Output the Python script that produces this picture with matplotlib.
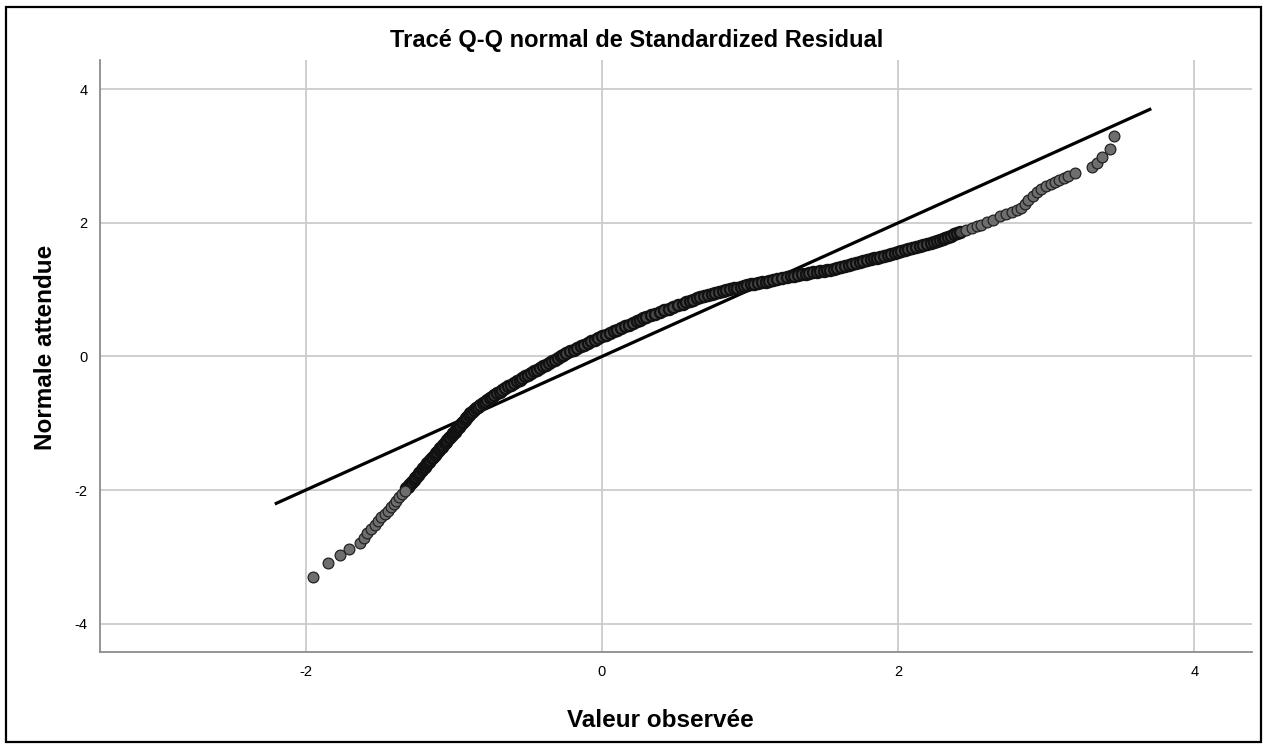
import matplotlib
matplotlib.use("Agg")
import matplotlib.pyplot as plt
from matplotlib.patches import Rectangle

plt.rcParams['font.family'] = ['Liberation Sans', 'DejaVu Sans']
plt.rcParams['axes.unicode_minus'] = False

# Observed standardized residuals (x) vs expected normal quantiles (y),
# read off the reference picture, in four stretches of the curve.

# lower tail, individual points
low_x = [-1.952, -1.851, -1.772, -1.709, -1.637, -1.610, -1.585, -1.560, -1.535,
         -1.512, -1.490, -1.468, -1.447, -1.428, -1.408, -1.388, -1.368, -1.350,
         -1.330]
low_y = [-3.30, -3.09, -2.98, -2.89, -2.80, -2.72, -2.65, -2.58, -2.52,
         -2.46, -2.41, -2.36, -2.31, -2.26, -2.21, -2.16, -2.11, -2.06,
         -2.01]

# steep dense band
steep_x = [-1.321, -1.311, -1.302, -1.292, -1.283, -1.273, -1.264, -1.254, -1.245,
           -1.235, -1.226, -1.217, -1.207, -1.198, -1.188, -1.179, -1.170, -1.160,
           -1.150, -1.141, -1.131, -1.121, -1.112, -1.102, -1.092, -1.083, -1.073,
           -1.063, -1.054, -1.044, -1.034, -1.025, -1.015, -1.005, -0.996, -0.986,
           -0.976, -0.967, -0.957, -0.948, -0.938, -0.928, -0.919, -0.909, -0.899,
           -0.890, -0.877, -0.864, -0.850, -0.836, -0.821, -0.806, -0.790, -0.774,
           -0.758, -0.742, -0.726, -0.710, -0.691, -0.672, -0.653, -0.634, -0.614,
           -0.595, -0.576, -0.557, -0.538, -0.519, -0.499, -0.480, -0.460, -0.440,
           -0.420, -0.400, -0.380, -0.360, -0.340, -0.320, -0.300, -0.280, -0.260,
           -0.240, -0.216, -0.192, -0.168, -0.144, -0.120, -0.096, -0.072, -0.048,
           -0.024, 0.000, 0.026, 0.052, 0.078, 0.104, 0.130, 0.156, 0.182,
           0.208, 0.234, 0.260, 0.280, 0.300, 0.330, 0.361, 0.391, 0.422,
           0.452, 0.483, 0.513, 0.544, 0.568, 0.593, 0.616, 0.640]
steep_y = [-1.975, -1.95, -1.925, -1.90, -1.875, -1.85, -1.825, -1.80, -1.775,
           -1.75, -1.725, -1.70, -1.675, -1.65, -1.625, -1.60, -1.575, -1.55,
           -1.525, -1.50, -1.475, -1.45, -1.425, -1.40, -1.375, -1.35, -1.325,
           -1.30, -1.275, -1.25, -1.225, -1.20, -1.175, -1.15, -1.125, -1.10,
           -1.075, -1.05, -1.025, -1.00, -0.975, -0.95, -0.925, -0.90, -0.875,
           -0.85, -0.825, -0.80, -0.775, -0.75, -0.725, -0.70, -0.675, -0.65,
           -0.625, -0.60, -0.575, -0.55, -0.525, -0.50, -0.475, -0.45, -0.425,
           -0.40, -0.375, -0.35, -0.325, -0.30, -0.275, -0.25, -0.225, -0.20,
           -0.175, -0.15, -0.125, -0.10, -0.075, -0.05, -0.025, 0.00, 0.025,
           0.05, 0.075, 0.10, 0.125, 0.15, 0.175, 0.20, 0.225, 0.25,
           0.275, 0.30, 0.325, 0.35, 0.375, 0.40, 0.425, 0.45, 0.475,
           0.50, 0.525, 0.55, 0.57, 0.59, 0.615, 0.64, 0.665, 0.69,
           0.715, 0.74, 0.765, 0.79, 0.81, 0.83, 0.85, 0.87]

# flatter dense band
flat_x = [0.665, 0.69, 0.715, 0.74, 0.765, 0.79, 0.815, 0.84, 0.865, 0.89,
          0.915, 0.94, 0.96, 0.98, 1.005, 1.03, 1.055, 1.08, 1.105, 1.13,
          1.155, 1.18, 1.215, 1.25, 1.275, 1.30, 1.325, 1.35, 1.375, 1.40,
          1.425, 1.45, 1.475, 1.50, 1.52, 1.54, 1.565, 1.59, 1.615, 1.64,
          1.665, 1.69, 1.715, 1.74, 1.765, 1.79, 1.815, 1.84, 1.86, 1.88,
          1.905, 1.93, 1.955, 1.98, 2.00, 2.02, 2.045, 2.07, 2.095, 2.12,
          2.145, 2.17, 2.195, 2.22, 2.24, 2.26, 2.28, 2.30, 2.32, 2.34,
          2.36, 2.38, 2.40, 2.42]
flat_y = [0.885, 0.90, 0.915, 0.93, 0.945, 0.96, 0.975, 0.99, 1.005, 1.02,
          1.032, 1.045, 1.057, 1.07, 1.08, 1.09, 1.10, 1.11, 1.122, 1.135,
          1.147, 1.16, 1.175, 1.19, 1.20, 1.21, 1.22, 1.23, 1.24, 1.25,
          1.258, 1.265, 1.275, 1.285, 1.292, 1.30, 1.312, 1.325, 1.34, 1.355,
          1.368, 1.38, 1.395, 1.41, 1.425, 1.44, 1.455, 1.47, 1.48, 1.49,
          1.505, 1.52, 1.538, 1.555, 1.568, 1.58, 1.595, 1.61, 1.625, 1.64,
          1.658, 1.675, 1.69, 1.705, 1.718, 1.73, 1.745, 1.76, 1.775, 1.79,
          1.81, 1.83, 1.85, 1.87]

# upper tail, sparser points
high_x = [2.46, 2.50, 2.53, 2.56, 2.60, 2.64, 2.69, 2.73, 2.77, 2.80,
          2.83, 2.86, 2.88, 2.91, 2.94, 2.965, 3.001, 3.032, 3.062, 3.090,
          3.118, 3.150, 3.197, 3.310, 3.343, 3.377, 3.429, 3.456]
high_y = [1.90, 1.93, 1.95, 1.97, 2.01, 2.05, 2.10, 2.13, 2.16, 2.19,
          2.22, 2.28, 2.34, 2.40, 2.46, 2.51, 2.55, 2.58, 2.61, 2.64,
          2.67, 2.70, 2.75, 2.83, 2.90, 2.99, 3.10, 3.30]

# reference line endpoints (y = x)
line_x = [-2.2, 3.7]
line_y = [-2.2, 3.7]

x_ticks = [-2, 0, 2, 4]
y_ticks = [-4, -2, 0, 2, 4]

fig = plt.figure(figsize=(12.65, 7.44), dpi=100)
ax = fig.add_axes([0.0791, 0.1233, 0.9106, 0.7961])

ax.plot(line_x, line_y, color='black', linewidth=2.3, zorder=3)

# dense band: overlapping markers read as a solid dark ribbon
ax.scatter(steep_x + flat_x, steep_y + flat_y, s=64, facecolor='#4a4a4a',
           edgecolor='#111111', linewidth=1.7, zorder=4)
# sparse tails: grey dots with thin dark edges
ax.scatter(low_x + high_x, low_y + high_y, s=60, facecolor='#6e6e6e',
           edgecolor='#222222', linewidth=0.9, zorder=4)

ax.set_xlim(-3.39, 4.39)
ax.set_ylim(-4.43, 4.44)
ax.set_xticks(x_ticks)
ax.set_yticks(y_ticks)
ax.tick_params(length=0, labelsize=10.5, pad=9)
ax.grid(True, color='#cccccc', linewidth=1.3)
ax.set_axisbelow(True)
for side in ['top', 'right']:
    ax.spines[side].set_visible(False)
for side in ['left', 'bottom']:
    ax.spines[side].set_color('#8c8c8c')
    ax.spines[side].set_linewidth(1.3)

ax.set_xlabel("Valeur observée", fontsize=17.5, fontweight='bold')
ax.set_ylabel("Normale attendue", fontsize=17.5, fontweight='bold')
ax.xaxis.set_label_coords(0.486, -0.095)
ax.yaxis.set_label_coords(-0.037, 0.514)
fig.text(0.503, 0.945, "Tracé Q-Q normal de Standardized Residual",
         ha='center', va='center', fontsize=17, fontweight='bold')

# outer frame
fig.add_artist(Rectangle((0.0047, 0.003), 0.992, 0.988, transform=fig.transFigure,
                         fill=False, edgecolor='black', linewidth=1.6))

fig.savefig("out.png", dpi=100)
